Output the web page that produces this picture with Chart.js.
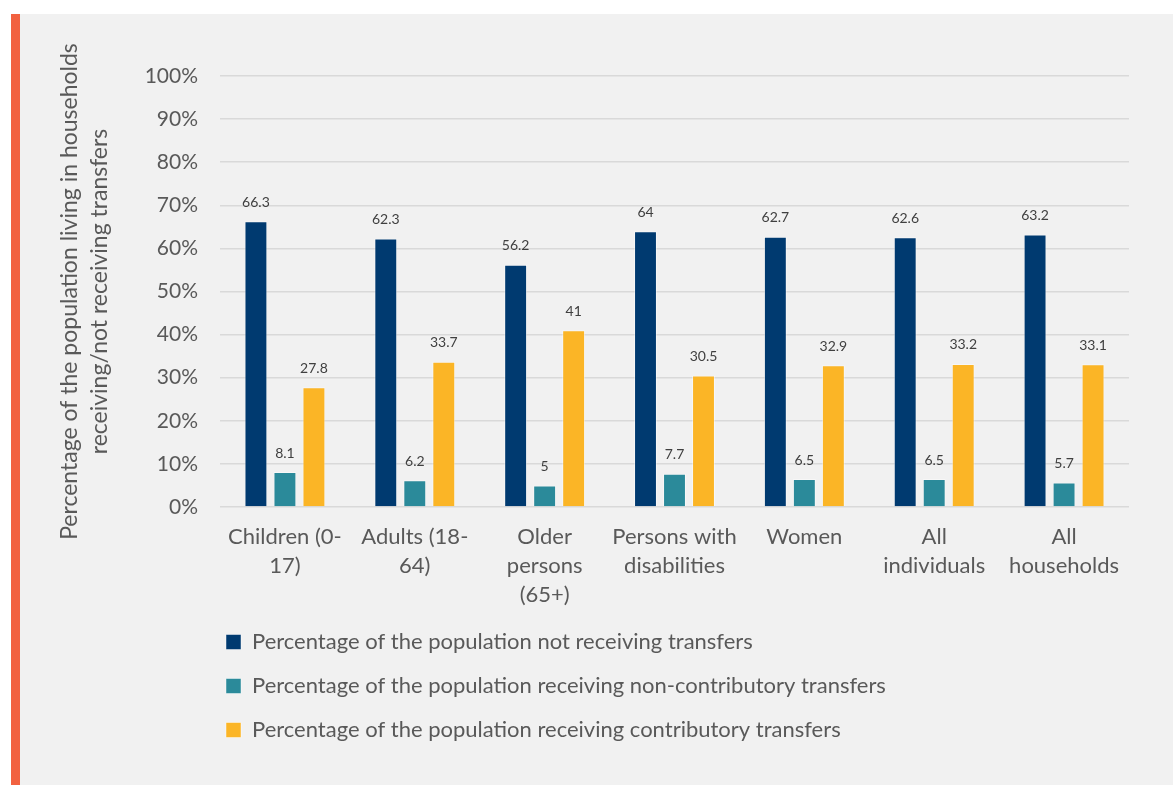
<!DOCTYPE html>
<html>
<head>
<meta charset="utf-8">
<script src="https://cdn.jsdelivr.net/npm/chart.js@4/dist/chart.umd.min.js"></script>
<style>
  html, body { margin: 0; padding: 0; background: #ffffff; }
  #panel {
    position: absolute; left: 11px; top: 14px; width: 1162px; height: 771px;
    background: #f1f1f1; border-left: 9px solid #f26140; box-sizing: border-box;
  }
  #wrap { position: absolute; left: 0; top: 0; width: 1153px; height: 771px; }
</style>
</head>
<body>
<div id="panel"><div id="wrap"><canvas id="chart"></canvas></div></div>
<script>
// categories and series
const categories = [
  ['Children (0-', '17)'],
  ['Adults (18-', '64)'],
  ['Older', 'persons', '(65+)'],
  ['Persons with', 'disabilities'],
  'Women',
  ['All', 'individuals'],
  ['All', 'households']
];
const notReceiving = [66.3, 62.3, 56.2, 64, 62.7, 62.6, 63.2];
const nonContributory = [8.1, 6.2, 5, 7.7, 6.5, 6.5, 5.7];
const contributory = [27.8, 33.7, 41, 30.5, 32.9, 33.2, 33.1];
const seriesNames = [
  'Percentage of the population not receiving transfers',
  'Percentage of the population receiving non-contributory transfers',
  'Percentage of the population receiving contributory transfers'
];
const yTitle = ['Percentage of the population living in households', 'receiving/not receiving transfers'];

const FONT = 'Lato, "Open Sans", sans-serif';
const textGrey = '#595959';

// value labels above each bar
const barLabels = {
  id: 'barLabels',
  afterDatasetsDraw(chart) {
    const ctx = chart.ctx;
    ctx.save();
    ctx.font = '14px ' + FONT;
    ctx.fillStyle = '#404040';
    ctx.textAlign = 'center';
    ctx.textBaseline = 'middle';
    chart.data.datasets.forEach((ds, i) => {
      chart.getDatasetMeta(i).data.forEach((bar, j) => {
        ctx.fillText(String(ds.data[j]), bar.x, bar.y - 19);
      });
    });
    ctx.restore();
  }
};

// push the legend over so it lines up under the plot
const legendShift = {
  id: 'legendShift',
  afterLayout(chart) {
    const lg = chart.legend;
    const dx = chart.chartArea.left - 16 - lg.left;
    lg.left += dx;
    lg.right += dx;
  }
};

new Chart(document.getElementById('chart'), {
  type: 'bar',
  data: {
    labels: categories,
    datasets: [
      { label: seriesNames[0], data: notReceiving, backgroundColor: '#003a70' },
      { label: seriesNames[1], data: nonContributory, backgroundColor: '#2b8a9a' },
      { label: seriesNames[2], data: contributory, backgroundColor: '#fbb526' }
    ].map(d => Object.assign(d, {
      borderColor: 'rgba(255,255,255,0.45)',
      borderWidth: 1,
      categoryPercentage: 0.67,
      barPercentage: 0.79
    }))
  },
  options: {
    responsive: true,
    maintainAspectRatio: false,
    animation: false,
    layout: { padding: { left: 35, right: 44, top: 62, bottom: 34 } },
    scales: {
      x: {
        grid: { display: false },
        border: { display: false },
        ticks: {
          color: textGrey,
          font: { family: FONT, size: 22, lineHeight: 1.32 },
          padding: 7,
          maxRotation: 0,
          autoSkip: false
        },
        afterFit(scale) { scale.height = 102; }
      },
      y: {
        min: 0,
        max: 100,
        ticks: {
          stepSize: 10,
          color: textGrey,
          font: { family: FONT, size: 21 },
          padding: 22,
          callback: v => v + '%'
        },
        grid: { color: '#d9d9d9', lineWidth: 1.5, drawTicks: false },
        border: { display: false },
        title: {
          display: true,
          text: yTitle,
          color: textGrey,
          font: { family: FONT, size: 23, lineHeight: 1.3 },
          padding: 0
        },
        afterFit(scale) { scale.width = 165; }
      }
    },
    plugins: {
      legend: {
        position: 'bottom',
        align: 'start',
        labels: {
          color: textGrey,
          font: { family: FONT, size: 22 },
          boxWidth: 15,
          boxHeight: 15,
          padding: 22
        }
      },
      tooltip: { enabled: false }
    }
  },
  plugins: [barLabels, legendShift]
});
</script>
</body>
</html>
